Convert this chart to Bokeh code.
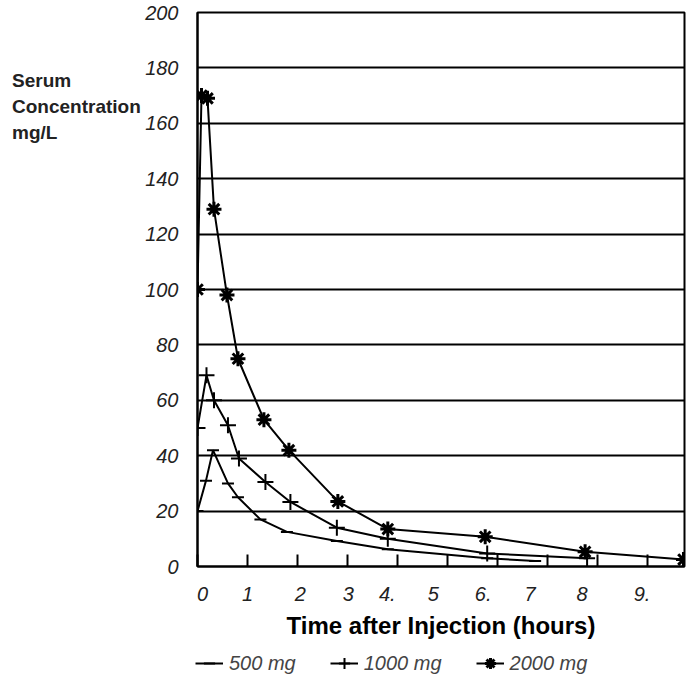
from bokeh.plotting import figure
from bokeh.models import FixedTicker, Range1d, Legend, LegendItem, Div
from bokeh.layouts import row, column
from bokeh.embed import file_html
from bokeh.resources import INLINE

# Data
t500 = [0, 0.17, 0.31, 0.61, 0.81, 1.26, 1.79, 2.79, 3.81, 5.8, 6.76]
c500 = [20, 31, 42, 30, 25, 17, 12.5, 9.2, 6.2, 3, 2]

t1000 = [0, 0.18, 0.33, 0.61, 0.83, 1.36, 1.86, 2.79, 3.81, 5.8, 7.8]
c1000 = [50, 69, 60, 51, 39, 30.5, 23.3, 14, 10, 4.7, 3]

t2000 = [0, 0.08, 0.2, 0.33, 0.59, 0.81, 1.33, 1.83, 2.81, 3.81, 5.76, 7.76, 9.73]
c2000 = [100, 170, 169, 129, 98, 75, 53, 42, 23.5, 13.5, 10.7, 5.3, 2.5]

x_ticks = [0, 1, 2, 3, 4, 5, 6, 7, 8, 9]
x_tick_labels = ["0", "1", "2", "3", "4.", "5", "6.", "7", "8", "9."]
x_label_pos = [0.1, 1.0, 2.06, 3.02, 3.8, 4.72, 5.72, 6.66, 7.7, 8.9]
y_ticks = [0, 20, 40, 60, 80, 100, 120, 140, 160, 180, 200]

series_names = ["500 mg", "1000 mg", "2000 mg"]
y_label_lines = ["Serum", "Concentration", "mg/L"]

FONT = "Liberation Sans"

p = figure(frame_width=487, frame_height=554, output_backend="svg", toolbar_location=None,
           x_range=Range1d(0, 9.75), y_range=Range1d(0, 200),
           min_border_left=55, min_border_top=12, min_border_right=2, min_border_bottom=0)

p.outline_line_color = "black"
p.outline_line_width = 2
p.background_fill_color = "white"
p.border_fill_color = None

# x axis: labels where the original draws them, tick marks (minor) at whole hours
xa = p.xaxis[0]
xa.ticker = FixedTicker(ticks=x_label_pos, minor_ticks=x_ticks)
xa.major_label_overrides = {t: l for t, l in zip(x_label_pos, x_tick_labels)}
xa.axis_line_color = "black"
xa.axis_line_width = 2
xa.major_tick_line_color = None
xa.minor_tick_in = 12
xa.minor_tick_out = 0
xa.minor_tick_line_width = 2
xa.minor_tick_line_color = "black"
xa.major_label_text_font = FONT
xa.major_label_text_font_style = "italic"
xa.major_label_text_font_size = "20px"
xa.major_label_text_color = "#222222"
xa.major_label_standoff = 14
xa.axis_label = "Time after Injection (hours)"
xa.axis_label_text_font = FONT
xa.axis_label_text_font_style = "bold"
xa.axis_label_text_font_size = "24px"
xa.axis_label_standoff = 8
xa.axis_label_text_color = "black"

ya = p.yaxis[0]
ya.ticker = FixedTicker(ticks=y_ticks)
ya.axis_line_color = "black"
ya.axis_line_width = 2
ya.major_label_text_font = FONT
ya.major_label_text_font_style = "italic"
ya.major_label_text_font_size = "20px"
ya.major_label_text_color = "#222222"
ya.major_tick_line_color = None
ya.minor_tick_line_color = None
ya.major_label_standoff = 13

p.xgrid.grid_line_color = None
p.ygrid.ticker = FixedTicker(ticks=y_ticks)
p.ygrid.grid_line_color = "black"
p.ygrid.grid_line_width = 2
p.ygrid.grid_line_alpha = 1

# series
p.line(t500, c500, line_color="black", line_width=2)
p.scatter(t500, c500, marker="dash", size=12, line_color="black", line_width=2)
p.line(t1000, c1000, line_color="black", line_width=2)
p.scatter(t1000, c1000, marker="cross", size=16, line_color="black", line_width=2)
p.line(t2000, c2000, line_color="black", line_width=2)
p.scatter(t2000, c2000, marker="asterisk", size=15, line_color="black", line_width=3)

# y label block to the left
ylab = Div(text=("<div style=\"font-family:'Liberation Sans';font-weight:bold;font-size:19px;"
                 "line-height:26px;padding:68px 0 0 12px;color:#222222;white-space:nowrap\">"
                 + "<br>".join(y_label_lines) + "</div>"),
           width=142, height=200, margin=0, styles={"overflow": "visible"})

# legend strip below (its renderers hold the series but sit outside its view)
p2 = figure(width=686, height=36, output_backend="svg", toolbar_location=None,
            x_axis_type=None, y_axis_type=None, min_border=0,
            x_range=Range1d(0, 1), y_range=Range1d(0, 1))
p2.outline_line_color = None
p2.xgrid.grid_line_color = None
p2.ygrid.grid_line_color = None
g1 = [p2.line(t500, c500, line_color="black", line_width=2),
      p2.scatter(t500, c500, marker="dash", size=12, line_color="black", line_width=2)]
g2 = [p2.line(t1000, c1000, line_color="black", line_width=2),
      p2.scatter(t1000, c1000, marker="cross", size=16, line_color="black", line_width=2)]
g3 = [p2.line(t2000, c2000, line_color="black", line_width=2),
      p2.scatter(t2000, c2000, marker="asterisk", size=15, line_color="black", line_width=3)]
legend = Legend(items=[LegendItem(label=series_names[0], renderers=g1),
                       LegendItem(label=series_names[1], renderers=g2),
                       LegendItem(label=series_names[2], renderers=g3)],
                orientation="horizontal", location=(195, 0))
legend.label_text_font = FONT
legend.label_text_font_style = "italic"
legend.label_text_font_size = "20px"
legend.border_line_color = None
legend.background_fill_alpha = 0
legend.spacing = 34
legend.padding = 4
legend.margin = 0
legend.glyph_width = 28
legend.glyph_height = 28
legend.label_standoff = 6
p2.add_layout(legend)

layout = column(row(ylab, p), p2)
open("out.html", "w").write(file_html(layout, INLINE))
